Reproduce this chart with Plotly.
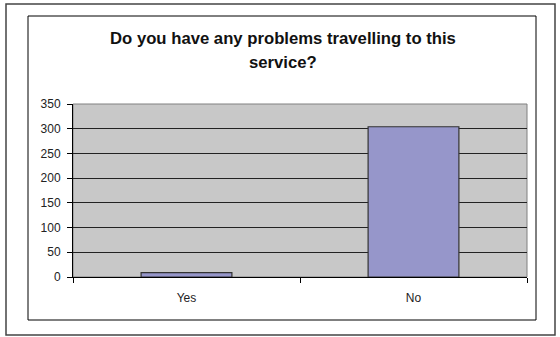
import plotly.graph_objects as go

# Survey responses
categories = ["Yes", "No"]
counts = [9, 304]
y_ticks = [0, 50, 100, 150, 200, 250, 300, 350]

title_lines = ["Do you have any problems travelling to this", "service?"]

W, H = 560, 337
# plot area in pixels
PL, PR, PT, PB = 73, 527, 104, 277


def px_x(x):
    return (x - PL) / (PR - PL)


def px_y(y):
    return (PB - y) / (PB - PT)


FONT = "Arial, Liberation Sans"

fig = go.Figure(
    go.Bar(
        x=categories,
        y=counts,
        width=0.4,
        marker=dict(color="#9696ca", line=dict(color="#333333", width=1.2)),
    )
)

shapes = [
    # outer frame
    dict(type="rect", xref="paper", yref="paper",
         x0=px_x(6), x1=px_x(555), y0=px_y(335), y1=px_y(4),
         line=dict(color="#444444", width=1.5), layer="below"),
    # chart frame
    dict(type="rect", xref="paper", yref="paper",
         x0=px_x(28), x1=px_x(536), y0=px_y(320), y1=px_y(16),
         line=dict(color="#000000", width=1), layer="below"),
    # plot area border
    dict(type="rect", xref="paper", yref="paper",
         x0=0, x1=1, y0=0, y1=1,
         line=dict(color="#808080", width=1), layer="below"),
]

annotations = [
    dict(text="<b>%s</b>" % title_lines[0], xref="paper", yref="paper",
         x=px_x(283), y=px_y(39), xanchor="center", yanchor="middle",
         showarrow=False, font=dict(family=FONT, size=16.7, color="#111111")),
    dict(text="<b>%s</b>" % title_lines[1], xref="paper", yref="paper",
         x=px_x(283), y=px_y(62), xanchor="center", yanchor="middle",
         showarrow=False, font=dict(family=FONT, size=16.7, color="#111111")),
]

fig.update_layout(
    width=W, height=H,
    margin=dict(l=PL, r=W - PR, t=PT, b=H - PB),
    paper_bgcolor="white",
    plot_bgcolor="#c8c8c8",
    showlegend=False,
    shapes=shapes,
    annotations=annotations,
    font=dict(family=FONT, size=12, color="#222222"),
)

fig.update_xaxes(
    type="category",
    showgrid=False,
    showline=True, linecolor="#000000", linewidth=1,
    ticks="outside", tickson="boundaries", ticklen=5, tickcolor="#000000",
    tickfont=dict(size=12),
    ticklabelstandoff=10,
)

fig.update_yaxes(
    range=[0, 350],
    tickvals=y_ticks,
    showgrid=True, gridcolor="#222222", gridwidth=1,
    showline=True, linecolor="#000000", linewidth=1,
    ticks="outside", ticklen=5, tickcolor="#000000",
    tickfont=dict(size=12),
    ticklabelstandoff=4,
    zeroline=False,
)

fig.write_html("out.html")
